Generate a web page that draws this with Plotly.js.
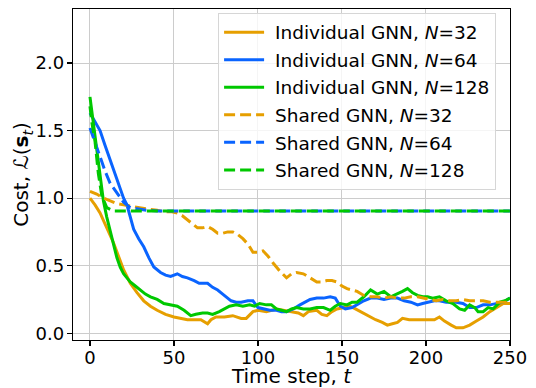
<!DOCTYPE html>
<html>
<head>
<meta charset="utf-8">
<script src="https://cdn.plot.ly/plotly-3.0.1.min.js"></script>
<style>html,body{margin:0;padding:0;background:#fff;}#chart{width:536px;height:388px;}</style>
</head>
<body>
<div id="chart"></div>
<script>
// Individual GNN, N=32
const ind32_t = [0,3,6,10,14,17,20,24,28,32,36,40,45,50,55,58,62,66,70,72,75,80,85,90,93,97,100,105,111,115,120,124,127,130,135,138,141,144,147,151,155,158,161,165,170,174,177,180,183,186,190,195,200,205,208,211,215,218,222,226,230,234,238,242,246,250];
const ind32_v = [1.00,0.95,0.89,0.78,0.67,0.57,0.47,0.37,0.30,0.24,0.20,0.17,0.14,0.12,0.11,0.10,0.10,0.10,0.07,0.10,0.12,0.12,0.13,0.11,0.11,0.16,0.17,0.16,0.18,0.17,0.16,0.15,0.13,0.16,0.17,0.14,0.13,0.16,0.18,0.19,0.20,0.18,0.16,0.13,0.10,0.08,0.06,0.07,0.08,0.11,0.10,0.10,0.10,0.10,0.12,0.09,0.06,0.04,0.04,0.06,0.09,0.12,0.16,0.19,0.22,0.22];
// Individual GNN, N=64
const ind64_t = [0,3,6,9,12,15,18,20,22,24,26,29,32,35,38,42,45,48,52,55,58,62,65,68,70,73,76,79,81,84,87,90,94,97,100,103,107,111,114,117,121,125,128,131,135,139,143,146,149,152,156,159,163,167,171,175,179,183,187,191,195,198,201,205,208,212,215,218,222,226,230,234,238,242,246,250];
const ind64_v = [1.63,1.56,1.50,1.39,1.28,1.17,1.06,1.00,0.95,0.85,0.77,0.70,0.64,0.56,0.49,0.45,0.43,0.42,0.44,0.42,0.41,0.39,0.37,0.37,0.37,0.34,0.32,0.29,0.27,0.24,0.23,0.23,0.24,0.24,0.19,0.18,0.17,0.17,0.16,0.16,0.18,0.21,0.23,0.25,0.26,0.26,0.27,0.26,0.20,0.18,0.19,0.21,0.24,0.26,0.26,0.25,0.26,0.26,0.24,0.23,0.21,0.22,0.23,0.24,0.24,0.23,0.23,0.23,0.22,0.19,0.19,0.21,0.21,0.22,0.23,0.26];
// Individual GNN, N=128
const ind128_t = [0,2,4,6,8,10,12,14,16,18,20,22,24,27,30,33,36,40,44,48,52,56,60,63,67,70,73,77,80,83,87,91,95,98,101,105,108,111,114,117,120,123,127,131,135,139,143,146,149,153,156,159,163,167,171,175,179,183,186,189,192,195,198,201,204,208,212,216,220,223,226,229,231,234,237,240,244,247,250];
const ind128_v = [1.75,1.55,1.35,1.16,0.98,0.86,0.76,0.65,0.56,0.49,0.44,0.41,0.38,0.35,0.32,0.29,0.27,0.25,0.22,0.21,0.20,0.17,0.13,0.14,0.15,0.15,0.14,0.16,0.18,0.20,0.21,0.20,0.21,0.20,0.22,0.21,0.21,0.18,0.17,0.16,0.18,0.19,0.18,0.18,0.19,0.19,0.17,0.20,0.22,0.21,0.23,0.23,0.27,0.32,0.29,0.31,0.27,0.29,0.31,0.33,0.30,0.28,0.27,0.27,0.26,0.27,0.24,0.22,0.18,0.17,0.21,0.19,0.16,0.16,0.19,0.18,0.23,0.24,0.26];
// Shared GNN, N=32
const sh32_t = [0,4,8,12,16,20,24,28,34,40,44,48,52,55,58,61,64,67,70,73,76,79,82,85,88,91,94,97,100,103,106,109,113,117,120,123,127,131,135,138,141,144,147,150,153,156,159,163,167,171,175,179,183,187,191,195,199,203,206,210,214,218,222,226,230,234,238,242,246,250];
const sh32_v = [1.05,1.03,1.00,0.98,0.96,0.95,0.94,0.93,0.92,0.91,0.90,0.90,0.89,0.87,0.84,0.81,0.78,0.78,0.79,0.77,0.74,0.74,0.75,0.75,0.73,0.70,0.66,0.60,0.60,0.61,0.57,0.52,0.46,0.41,0.44,0.45,0.44,0.41,0.38,0.38,0.39,0.39,0.38,0.35,0.33,0.32,0.31,0.28,0.27,0.27,0.26,0.27,0.26,0.26,0.27,0.27,0.26,0.25,0.24,0.25,0.24,0.24,0.25,0.24,0.24,0.24,0.23,0.23,0.23,0.23];
// Shared GNN, N=64
const sh64_t = [0,3,6,9,12,16,20,24,28,34,40,50,250];
const sh64_v = [1.52,1.41,1.30,1.20,1.11,1.04,0.97,0.93,0.92,0.91,0.905,0.905,0.905];
// Shared GNN, N=128
const sh128_t = [0,1,3,5,7,10,14,20,250];
const sh128_v = [1.68,1.57,1.42,1.18,1.02,0.93,0.905,0.905,0.905];

const names = ['Individual GNN, <i>N</i>=32','Individual GNN, <i>N</i>=64','Individual GNN, <i>N</i>=128',
               'Shared GNN, <i>N</i>=32','Shared GNN, <i>N</i>=64','Shared GNN, <i>N</i>=128'];
const xTicks = [0,50,100,150,200,250];
const yTicks = [0.0,0.5,1.0,1.5,2.0];
const yTickText = ['0.0','0.5','1.0','1.5','2.0'];

const ORANGE = '#E69F00', BLUE = '#0A64FF', GREEN = '#00C800';
const series = [
  [ind32_t, ind32_v, ORANGE, 'solid'],
  [ind64_t, ind64_v, BLUE, 'solid'],
  [ind128_t, ind128_v, GREEN, 'solid'],
  [sh32_t, sh32_v, ORANGE, '11px,5px'],
  [sh64_t, sh64_v, BLUE, '11px,5px'],
  [sh128_t, sh128_v, GREEN, '11px,5px']
];
const data = series.map((s, i) => ({
  x: s[0], y: s[1], type: 'scatter', mode: 'lines', name: '\u00a0' + names[i],
  legendgroup: 'g' + i,
  line: {color: s[2], width: 3, dash: s[3]}
}));

const FONT = 'DejaVu Sans, sans-serif';
const layout = {
  width: 536, height: 388,
  margin: {l: 73, r: 26, t: 9, b: 48, pad: 0},
  paper_bgcolor: '#fff', plot_bgcolor: '#fff',
  font: {family: FONT, color: '#000', size: 18},
  showlegend: true,
  legend: {
    x: 0.332, y: 0.989, xanchor: 'left', yanchor: 'top',
    bgcolor: 'rgba(255,255,255,0.8)', bordercolor: '#d6d6d6', borderwidth: 1,
    font: {family: FONT, size: 18.5, color: '#000'},
    tracegroupgap: 0.5, itemwidth: 40
  },
  xaxis: {
    range: [-10.1, 250], tickvals: xTicks, ticktext: xTicks.map(String),
    showgrid: true, gridcolor: '#cccccc', gridwidth: 1,
    zeroline: false, showline: true, linecolor: '#000', linewidth: 1.2, mirror: true,
    ticks: 'outside', ticklen: 5, tickwidth: 1.2, tickcolor: '#000',
    ticklabelstandoff: -4,
    tickfont: {family: FONT, size: 18},
    title: {text: 'Time step, <i>t</i>', font: {family: FONT, size: 20}, standoff: 3}
  },
  yaxis: {
    range: [-0.05, 2.4], tickvals: yTicks, ticktext: yTickText,
    showgrid: true, gridcolor: '#cccccc', gridwidth: 1,
    zeroline: false, showline: true, linecolor: '#000', linewidth: 1.2, mirror: true,
    ticks: 'outside', ticklen: 5, tickwidth: 1.2, tickcolor: '#000',
    ticklabelstandoff: -1,
    tickfont: {family: FONT, size: 18},
    title: {text: 'Cost, ℒ(<b>s</b><sub><i>t</i></sub>)', font: {family: FONT, size: 20}, standoff: 0}
  }
};
Plotly.newPlot('chart', data, layout, {staticPlot: true, displayModeBar: false});
</script>
</body>
</html>
